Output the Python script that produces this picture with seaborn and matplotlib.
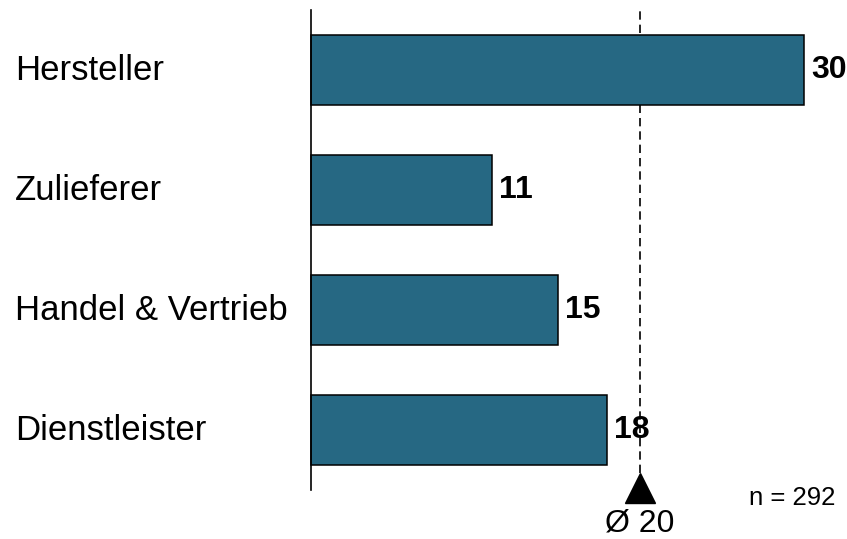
import matplotlib
matplotlib.use("Agg")
import matplotlib.pyplot as plt
import matplotlib.transforms as mtransforms
import seaborn as sns
import pandas as pd

# Data
categories = ["Hersteller", "Zulieferer", "Handel & Vertrieb", "Dienstleister"]
values = [30, 11, 15, 18]
average = 20
n_label = "n = 292"

sns.set_theme(style="white")
plt.rcParams["font.family"] = ["Liberation Sans", "DejaVu Sans"]

W, H = 847, 539
fig = plt.figure(figsize=(W / 100, H / 100), dpi=100)
ax = fig.add_axes([311 / W, 49 / H, 493 / W, 480 / H])

df = pd.DataFrame({"Kategorie": categories, "Wert": values})
sns.barplot(data=df, x="Wert", y="Kategorie", orient="h", color="#266883",
            saturation=1, edgecolor="black", linewidth=1.1, width=0.59, ax=ax)
for patch in ax.patches:
    patch.set_clip_on(False)

ax.set_xlim(0, 30)
ax.set_ylim(len(categories) - 0.5, -0.5)
ax.set_xlabel("")
ax.set_ylabel("")
ax.set_xticks([])
ax.set_yticks([])
for side in ("top", "right", "bottom"):
    ax.spines[side].set_visible(False)
ax.spines["left"].set_color("black")
ax.spines["left"].set_linewidth(1.2)
ax.patch.set_alpha(0)

# Category labels, left-aligned at the figure edge
lab_tr = mtransforms.blended_transform_factory(fig.transFigure, ax.transData)
for i, cat in enumerate(categories):
    ax.text(15 / W, i, cat, transform=lab_tr, ha="left", va="center",
            fontsize=25, color="black")

# Value labels at bar ends
for i, v in enumerate(values):
    ax.annotate(str(v), xy=(v, i), xytext=(5.5, 0), textcoords="offset points",
                ha="left", va="center", fontsize=23, fontweight="bold",
                color="black")

# Average line with marker and label
ax.axvline(average, ymin=(490 - 473) / 480, ymax=1, color="black",
           linestyle=(0, (5, 3)), linewidth=1.2, zorder=0.5)
mark_tr = mtransforms.blended_transform_factory(ax.transData, fig.transFigure)
ax.plot([average], [(H - 488) / H], marker="^", markersize=22, color="black",
        transform=mark_tr, clip_on=False)
ax.text(average, (H - 524) / H, f"Ø {average}", transform=mark_tr,
        ha="center", va="center", fontsize=23, color="black")

fig.text(835 / W, (H - 505) / H, n_label, ha="right", va="baseline",
         fontsize=18.5, color="black")

fig.savefig("out.png", dpi=100)
